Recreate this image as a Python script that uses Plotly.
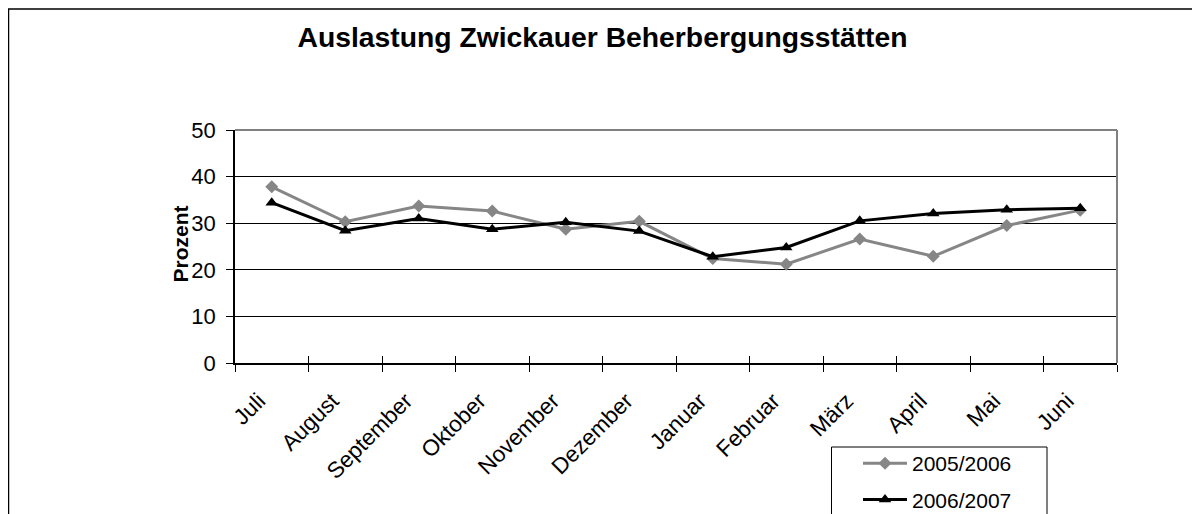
import plotly.graph_objects as go

months = ["Juli", "August", "September", "Oktober", "November", "Dezember",
          "Januar", "Februar", "März", "April", "Mai", "Juni"]
s2005 = [37.8, 30.3, 33.7, 32.6, 28.7, 30.4, 22.4, 21.2, 26.6, 22.9, 29.5, 32.8]
s2006 = [34.4, 28.4, 31.0, 28.7, 30.2, 28.3, 22.8, 24.8, 30.5, 32.1, 32.9, 33.2]
names = ["2005/2006", "2006/2007"]
y_ticks = [0, 10, 20, 30, 40, 50]

FONT = "Liberation Sans, Arial, sans-serif"
W, H = 1200, 514
OFF = 8  # page body offset of the figure
# plot area in screen coordinates
X0, X1, Y0, Y1 = 235, 1117, 130, 363
L, T = X0 - OFF, Y0 - OFF
R = W - (X1 - OFF)
B = H - (Y1 - OFF)
PW, PH = X1 - X0, Y1 - Y0

def px(x):
    return (x - X0) / PW

def py(y):
    return (Y1 - y) / PH

fig = go.Figure()
fig.add_trace(go.Scatter(
    x=months, y=s2005, name=names[0], mode="lines+markers",
    line=dict(color="#868686", width=3),
    marker=dict(symbol="diamond", size=10, color="#868686"),
    legendgroup="a"))
fig.add_trace(go.Scatter(
    x=months, y=s2006, name=names[1], mode="lines+markers",
    line=dict(color="#000000", width=3),
    marker=dict(symbol="triangle-up", size=11, color="#000000"),
    legendgroup="b"))
# invisible overlay trace to give the inside half of the crossing x ticks
fig.add_trace(go.Scatter(x=months, y=s2006, xaxis="x2", mode="none",
                         showlegend=False, hoverinfo="skip"))

fig.update_layout(
    width=W, height=H,
    margin=dict(l=L, r=R, t=T, b=B, autoexpand=False),
    paper_bgcolor="white", plot_bgcolor="white",
    font=dict(family=FONT, size=21, color="black"),
    title=dict(text="<b>Auslastung Zwickauer Beherbergungsstätten</b>",
               x=(602.5 - OFF) / W, xref="container", xanchor="center",
               y=1 - (37 - OFF) / H, yref="container", yanchor="middle",
               font=dict(family=FONT, size=28.3, color="black")),
    xaxis=dict(type="category", categoryorder="array", categoryarray=months,
               range=[-0.5, 11.5], tickson="boundaries", ticks="outside",
               ticklen=7, tickwidth=1, tickcolor="black", tickangle=-45,
               ticklabelstandoff=14, ticklabelshift=-13,
               showline=True, linecolor="black", linewidth=1.5,
               showgrid=False, zeroline=False, automargin=False,
               tickfont=dict(family=FONT, size=22.5, color="black")),
    xaxis2=dict(type="category", categoryorder="array", categoryarray=months,
                range=[-0.5, 11.5], overlaying="x", anchor="y",
                tickson="boundaries", ticks="inside", ticklen=7, tickwidth=1,
                tickcolor="black", showticklabels=False, showgrid=False,
                zeroline=False, showline=False, automargin=False),
    yaxis=dict(range=[0, 50], tickvals=y_ticks, ticks="outside", ticklen=7,
               tickwidth=1, tickcolor="black", ticklabelstandoff=6,
               showline=True, linecolor="black", linewidth=1.5,
               showgrid=True, gridcolor="black", gridwidth=1,
               zeroline=False, automargin=False,
               tickfont=dict(family=FONT, size=22, color="black")),
    showlegend=True,
    legend=dict(x=px(858), y=py(443), xanchor="left", yanchor="top",
                bgcolor="rgba(0,0,0,0)", borderwidth=0,
                traceorder="grouped", tracegroupgap=6, itemwidth=44,
                font=dict(family=FONT, size=21, color="black")),
)

fig.add_annotation(text="<b>Prozent</b>", x=px(166), y=py(244), xref="paper",
                   yref="paper", textangle=-90, showarrow=False,
                   font=dict(family=FONT, size=21, color="black"))

# plot area gray top/right border
fig.add_shape(type="line", xref="paper", yref="paper", x0=0, x1=1, y0=1, y1=1,
              line=dict(color="#808080", width=2), layer="above")
fig.add_shape(type="line", xref="paper", yref="paper", x0=1, x1=1, y0=0, y1=1,
              line=dict(color="#808080", width=2), layer="above")
# outer chart frame
fig.add_shape(type="rect", xref="paper", yref="paper",
              x0=px(8.5), x1=px(1220), y0=py(9), y1=py(540),
              line=dict(color="black", width=1.5), layer="below")
# legend frame
fig.add_shape(type="rect", xref="paper", yref="paper",
              x0=px(831.5), x1=px(1047), y0=py(447), y1=py(540),
              line=dict(color="black", width=1), layer="below")

fig.write_html("out.html")
